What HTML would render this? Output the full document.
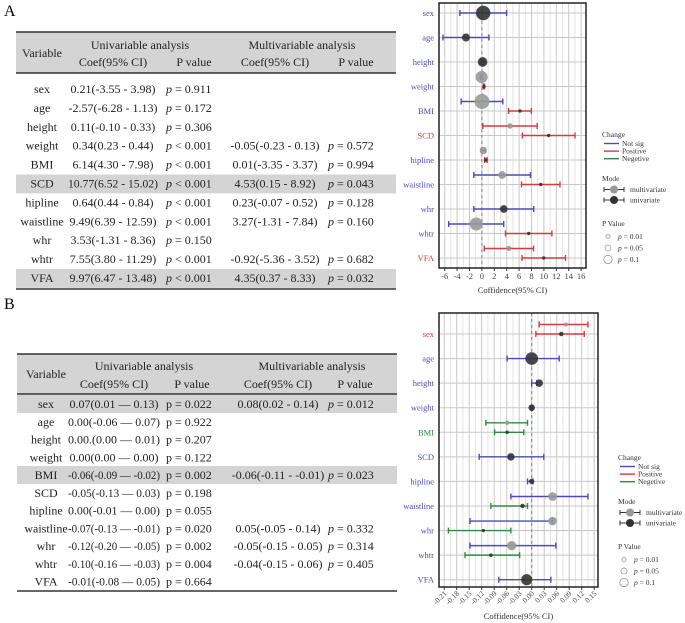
<!DOCTYPE html>
<html><head><meta charset="utf-8"><style>
html,body{margin:0;padding:0;background:#fff}
svg{display:block;font-family:"Liberation Serif",serif}
</style></head><body>
<svg id="fig" width="685" height="623" viewBox="0 0 685 623">
<text x="4" y="16" font-size="16">A</text>
<text x="4" y="309" font-size="16">B</text>
<g id="tables"></g>
<g id="plots"></g>
</svg>
<script>
// ---------- data ----------
const varsA = ["sex","age","height","weight","BMI","SCD","hipline","waistline","whr","whtr","VFA"];
const uniEstA = [0.21,-2.57,0.11,0.34,6.14,10.77,0.64,9.49,3.53,7.55,9.97];
const uniLoA  = [-3.55,-6.28,-0.10,0.23,4.30,6.52,0.44,6.39,-1.31,3.80,6.47];
const uniHiA  = [3.98,1.13,0.33,0.44,7.98,15.02,0.84,12.59,8.36,11.29,13.48];
const uniPA   = [0.911,0.172,0.306,0.001,0.001,0.001,0.001,0.001,0.150,0.001,0.001];
const mulEstA = [null,null,null,-0.05,0.01,4.53,0.23,3.27,null,-0.92,4.35];
const mulLoA  = [null,null,null,-0.23,-3.35,0.15,-0.07,-1.31,null,-5.36,0.37];
const mulHiA  = [null,null,null,0.13,3.37,8.92,0.52,7.84,null,3.52,8.33];
const mulPA   = [null,null,null,0.572,0.994,0.043,0.128,0.160,null,0.682,0.032];
const ticksA = [-6,-4,-2,0,2,4,6,8,10,12,14,16];

const varsB = ["sex","age","height","weight","BMI","SCD","hipline","waistline","whr","whtr","VFA"];
const uniEstB = [0.071,0.00,0.018,0.00,-0.059,-0.05,0.00,-0.022,-0.116,-0.098,-0.012];
const uniLoB  = [0.01,-0.059,0.00,-0.002,-0.089,-0.126,-0.01,-0.098,-0.20,-0.16,-0.079];
const uniHiB  = [0.126,0.066,0.012,0.002,-0.019,0.029,0.003,-0.01,-0.05,-0.029,0.046];
const uniPB   = [0.022,0.922,0.207,0.122,0.002,0.198,0.055,0.020,0.002,0.004,0.664];
const mulEstB = [0.082,null,null,null,-0.059,null,null,0.05,0.05,-0.048,null];
const mulLoB  = [0.018,null,null,null,-0.11,null,null,-0.05,-0.148,-0.148,null];
const mulHiB  = [0.135,null,null,null,-0.01,null,null,0.135,0.05,0.058,null];
const mulPB   = [0.012,null,null,null,0.023,null,null,0.332,0.314,0.405,null];
const ticksB = ["-0.21","-0.18","-0.15","-0.12","-0.09","-0.06","-0.03","0.00","0.03","0.06","0.09","0.12","0.15"];

// table text
const tA_uniCoef = ["0.21(-3.55 - 3.98)","-2.57(-6.28 - 1.13)","0.11(-0.10 - 0.33)","0.34(0.23 - 0.44)","6.14(4.30 - 7.98)","10.77(6.52 - 15.02)","0.64(0.44 - 0.84)","9.49(6.39 - 12.59)","3.53(-1.31 - 8.36)","7.55(3.80 - 11.29)","9.97(6.47 - 13.48)"];
const tA_uniP = ["=  0.911","=  0.172","=  0.306","< 0.001","< 0.001","< 0.001","< 0.001","< 0.001","= 0.150","< 0.001","< 0.001"];
const tA_mulCoef = ["","","","-0.05(-0.23 - 0.13)","0.01(-3.35 - 3.37)","4.53(0.15 - 8.92)","0.23(-0.07 - 0.52)","3.27(-1.31 - 7.84)","","-0.92(-5.36 - 3.52)","4.35(0.37 - 8.33)"];
const tA_mulP = ["","","","= 0.572","= 0.994","= 0.043","= 0.128","= 0.160","","= 0.682","= 0.032"];
const tB_uniCoef = ["0.07(0.01 — 0.13)","0.00(-0.06 — 0.07)","0.00.(0.00 — 0.01)","0.00(0.00 — 0.00)","-0.06(-0.09 — -0.02)","-0.05(-0.13 — 0.03)","0.00(-0.01 — 0.00)","-0.07(-0.13 — -0.01)","-0.12(-0.20 — -0.05)","-0.10(-0.16 — -0.03)","-0.01(-0.08 — 0.05)"];
const tB_uniP = ["=  0.022","=  0.922","=  0.207","= 0.122","= 0.002","=  0.198","= 0.055","= 0.020","= 0.002","= 0.004","= 0.664"];
const tB_mulCoef = ["0.08(0.02 - 0.14)","","","","-0.06(-0.11 - -0.01)","","","0.05(-0.05 - 0.14)","-0.05(-0.15 - 0.05)","-0.04(-0.15 - 0.06)",""];
const tB_mulP = ["=  0.012","","","","= 0.023","","","= 0.332","= 0.314","= 0.405",""];

const NS = "http://www.w3.org/2000/svg";
function mk(parent, tag, attrs, txt){const e=document.createElementNS(NS,tag);for(const k in attrs)e.setAttribute(k,attrs[k]);if(txt!==undefined)e.textContent=txt;parent.appendChild(e);return e;}
const tables=document.getElementById('tables'), plots=document.getElementById('plots');

function fitText(t,maxW){
  try{const w=t.getComputedTextLength();if(w>maxW){t.setAttribute('textLength',maxW);t.setAttribute('lengthAdjust','spacingAndGlyphs');}}catch(e){}
}

function drawTable(cfg){
  const g=mk(tables,'g',{});
  
  
  let r=mk(g,'rect',{x:cfg.x0,y:cfg.top,width:cfg.x1-cfg.x0,height:cfg.hdrBot-cfg.top,fill:'#d4d4d4'});
  
  
  cfg.grey.forEach(i=>{
    const gr=mk(g,'rect',{x:cfg.x0,y:cfg.rowY(i)-13,width:cfg.x1-cfg.x0,height:cfg.rowH,fill:'#d4d4d4'});
    
    
  });
  [[cfg.top,1.5],[cfg.hdrBot,1.5],[cfg.bottom,1.5]].forEach(([y,w])=>{
    const l=mk(g,'line',{x1:cfg.x0,x2:cfg.x1,y1:y,y2:y,stroke:'#333','stroke-width':w});
    
    
  });
  const fs=12;
  const H=[["Variable",cfg.cVar,cfg.hy0+8],["Univariable analysis",cfg.cUni,cfg.hy0],["Multivariable analysis",cfg.cMul,cfg.hy0],
           ["Coef(95% CI)",cfg.cUC,cfg.hy1],["P value",cfg.cUP,cfg.hy1],["Coef(95% CI)",cfg.cMC,cfg.hy1],["P value",cfg.cMP,cfg.hy1]];
  H.forEach(h=>{const t=mk(g,'text',{x:h[1],y:h[2],'font-size':fs,'text-anchor':'middle',fill:'#222'},h[0]);
    
    });
  cfg.vars.forEach((v,i)=>{
    const y=cfg.rowY(i);
    let t=mk(g,'text',{x:cfg.cVar,y:y,'font-size':fs,'text-anchor':'middle',fill:'#222'},v);
    
    
    fitText(t,54);
    t=mk(g,'text',{x:cfg.cUC,y:y,'font-size':fs,'text-anchor':'middle',fill:'#222'},cfg.uc[i]);
    
    
    fitText(t,cfg.ucMax);
    t=mk(g,'text',{x:cfg.pU,y:y,'font-size':fs,fill:'#222'});
    mk(t,'tspan',{'font-style':cfg.uniItal?'italic':'normal'},'p');
    mk(t,'tspan',{},' '+cfg.up[i]);
    
    
    if(cfg.mc[i]){
      t=mk(g,'text',{x:cfg.cMC,y:y,'font-size':fs,'text-anchor':'middle',fill:'#222'},cfg.mc[i]);
      
      
      t=mk(g,'text',{x:cfg.pM,y:y,'font-size':fs,fill:'#222'});
      mk(t,'tspan',{'font-style':'italic'},'p');
      mk(t,'tspan',{},' '+cfg.mp[i]);
      
      
    }
  });
}
drawTable({name:'table-a',x0:16,x1:396,top:32,hdrBot:73,bottom:289,rowH:18.9,rowY:i=>93+i*18.9,grey:[5,10],
  hy0:49,hy1:66,cVar:42,cUni:140,cMul:302,cUC:113,cUP:194,cMC:275,cMP:356,pU:166,pM:328,uniItal:true,ucMax:90,
  vars:varsA,uc:tA_uniCoef,up:tA_uniP,mc:tA_mulCoef,mp:tA_mulP});
drawTable({name:'table-b',x0:17,x1:397,top:354,hdrBot:394,bottom:591,rowH:18,rowY:i=>408+i*17.75,grey:[0,4],
  hy0:370,hy1:388,cVar:46,cUni:144,cMul:312,cUC:114,cUP:192,cMC:278,cMP:355,pU:166,pM:328,uniItal:false,ucMax:92,
  vars:varsB,uc:tB_uniCoef,up:tB_uniP,mc:tB_mulCoef,mp:tB_mulP});

const COL={pos:'#d63a3a',neg:'#2e8b3e',ns:'#4a4ab8'};
function colFor(lo,hi){return lo>0?COL.pos:(hi<0?COL.neg:COL.ns);}

function drawPlot(cfg){
  const g=mk(plots,'g',{});
  
  
  const xs=cfg.xs;
  let bg=mk(g,'rect',{x:cfg.L,y:cfg.T,width:cfg.R-cfg.L,height:cfg.B-cfg.T,fill:'#fff'});
  
  
  for(let k=0;k<cfg.tickVals.length;k++){
    const v=cfg.tickVals[k];
    const gl=mk(g,'line',{x1:xs(v),x2:xs(v),y1:cfg.T,y2:cfg.B,stroke:'#c8c8c8','stroke-width':1});
    
    
    if(k<cfg.tickVals.length-1){
      const m=(v+cfg.tickVals[k+1])/2;
      const ml=mk(g,'line',{x1:xs(m),x2:xs(m),y1:cfg.T,y2:cfg.B,stroke:'#dedede','stroke-width':0.8});
      
      
    }
  }
  cfg.vars.forEach((v,i)=>{
    const y=cfg.rowY(i);
    const hl=mk(g,'line',{x1:cfg.L,x2:cfg.R,y1:y,y2:y,stroke:'#c8c8c8','stroke-width':1});
    
    
  });
  const zl=mk(g,'line',{x1:xs(0),x2:xs(0),y1:cfg.T,y2:cfg.B,stroke:'#888','stroke-width':1.1,'stroke-dasharray':'3,3'});
  
  
  function bar(est,lo,hi,p,y,fill,nm){
    const c=colFor(lo,hi);
    const eg=mk(g,'g',{});
    
    
    mk(eg,'line',{x1:xs(lo),x2:xs(hi),y1:y,y2:y,stroke:c,'stroke-width':1.4});
    mk(eg,'line',{x1:xs(lo),x2:xs(lo),y1:y-3,y2:y+3,stroke:c,'stroke-width':1.4});
    mk(eg,'line',{x1:xs(hi),x2:xs(hi),y1:y-3,y2:y+3,stroke:c,'stroke-width':1.4});
    mk(eg,'circle',{cx:xs(est),cy:y,r:1.5+cfg.rk*Math.sqrt(p),fill:fill,'fill-opacity':0.9});
  }
  cfg.vars.forEach((v,i)=>{
    const y=cfg.rowY(i);
    let allPos=cfg.uLo[i]>0, allNeg=cfg.uHi[i]<0;
    if(cfg.mEst[i]!==null){allPos=allPos&&cfg.mLo[i]>0;allNeg=allNeg&&cfg.mHi[i]<0;}
    const lc=allPos?COL.pos:(allNeg?COL.neg:COL.ns);
    const t=mk(g,'text',{x:cfg.L-5,y:y+3,'font-size':8.5,'text-anchor':'end',fill:lc},v);
    
    
    if(cfg.mEst[i]!==null) bar(cfg.mEst[i],cfg.mLo[i],cfg.mHi[i],cfg.mP[i],y-9.5,'#999','multivariate-estimate');
    bar(cfg.uEst[i],cfg.uLo[i],cfg.uHi[i],cfg.uP[i],y,'#333','univariate-estimate');
  });
  const fr=mk(g,'rect',{x:cfg.L,y:cfg.T,width:cfg.R-cfg.L,height:cfg.B-cfg.T,fill:'none',stroke:'#222','stroke-width':1.5});
  
  
  cfg.tickVals.forEach((v,k)=>{
    const x=xs(v);
    const tk=mk(g,'line',{x1:x,x2:x,y1:cfg.B,y2:cfg.B+3,stroke:'#333'});
    
    
    let t;
    if(cfg.rot){
      t=mk(g,'text',{x:x+3,y:cfg.B+7,'font-size':7.5,'text-anchor':'end',fill:'#444',transform:`rotate(-45 ${x+3} ${cfg.B+7})`},cfg.tickLabels[k]);
    }else{
      t=mk(g,'text',{x:x,y:cfg.B+11,'font-size':8.5,'text-anchor':'middle',fill:'#444'},cfg.tickLabels[k]);
    }
    
    
  });
  const at=mk(g,'text',{x:(cfg.L+cfg.R)/2,y:cfg.titleY,'font-size':8.5,'text-anchor':'middle',fill:'#333'},'Coffidence(95% CI)');
  
  
}
drawPlot({name:'forest-plot-a',L:439,R:586,T:3,B:268,xs:v=>481.9+v*6.2,rowY:i=>13+i*24.5,rk:6,rot:false,titleY:293,
  tickVals:ticksA,tickLabels:ticksA.map(String),vars:varsA,uEst:uniEstA,uLo:uniLoA,uHi:uniHiA,uP:uniPA,
  mEst:mulEstA,mLo:mulLoA,mHi:mulHiA,mP:mulPA});
drawPlot({name:'forest-plot-b',L:439,R:598,T:313,B:587,xs:v=>531.7+v*416.7,rowY:i=>334+i*24.57,rk:5,rot:true,titleY:619,
  tickVals:ticksB.map(Number),tickLabels:ticksB,vars:varsB,uEst:uniEstB,uLo:uniLoB,uHi:uniHiB,uP:uniPB,
  mEst:mulEstB,mLo:mulLoB,mHi:mulHiB,mP:mulPB});

function legend(x,y,nm){
  const g=mk(plots,'g',{});
  
  
  const fs=7.5;
  mk(g,'text',{x:x,y:y,'font-size':fs,fill:'#333'},'Change');
  [['Not sig',COL.ns],['Positive',COL.pos],['Negetive',COL.neg]].forEach((e,k)=>{
    const yy=y+9+k*7.6;
    const li=mk(g,'g',{});
    
    
    mk(li,'line',{x1:x+2,x2:x+17,y1:yy-2.5,y2:yy-2.5,stroke:e[1],'stroke-width':1.4});
    mk(li,'text',{x:x+20,y:yy,'font-size':fs,fill:'#333'},e[0]);
  });
  mk(g,'text',{x:x,y:y+44,'font-size':fs,fill:'#333'},'Mode');
  [['multivariate','#999'],['univariate','#333']].forEach((e,k)=>{
    const yy=y+55+k*10.5;
    const li=mk(g,'g',{});
    
    
    mk(li,'line',{x1:x+2,x2:x+22,y1:yy-2.5,y2:yy-2.5,stroke:'#333','stroke-width':1});
    mk(li,'line',{x1:x+2,x2:x+2,y1:yy-5,y2:yy,stroke:'#333'});
    mk(li,'line',{x1:x+22,x2:x+22,y1:yy-5,y2:yy,stroke:'#333'});
    mk(li,'circle',{cx:x+12,cy:yy-2.5,r:4,fill:e[1]});
    mk(li,'text',{x:x+28,y:yy,'font-size':fs,fill:'#333'},e[0]);
  });
  mk(g,'text',{x:x,y:y+89,'font-size':fs,fill:'#333'},'P Value');
  [['0.01',2],['0.05',3],['0.1',4.2]].forEach((e,k)=>{
    const yy=y+102+k*11.5;
    const li=mk(g,'g',{});
    
    
    mk(li,'circle',{cx:x+6,cy:yy-2.5,r:e[1],fill:'none',stroke:'#999','stroke-width':0.8});
    const t=mk(li,'text',{x:x+16,y:yy,'font-size':fs,fill:'#333'});
    mk(t,'tspan',{'font-style':'italic'},'p');
    mk(t,'tspan',{},' = '+e[0]);
  });
}
legend(602,137,'legend-a');
legend(618,460,'legend-b');
</script>
</body></html>
